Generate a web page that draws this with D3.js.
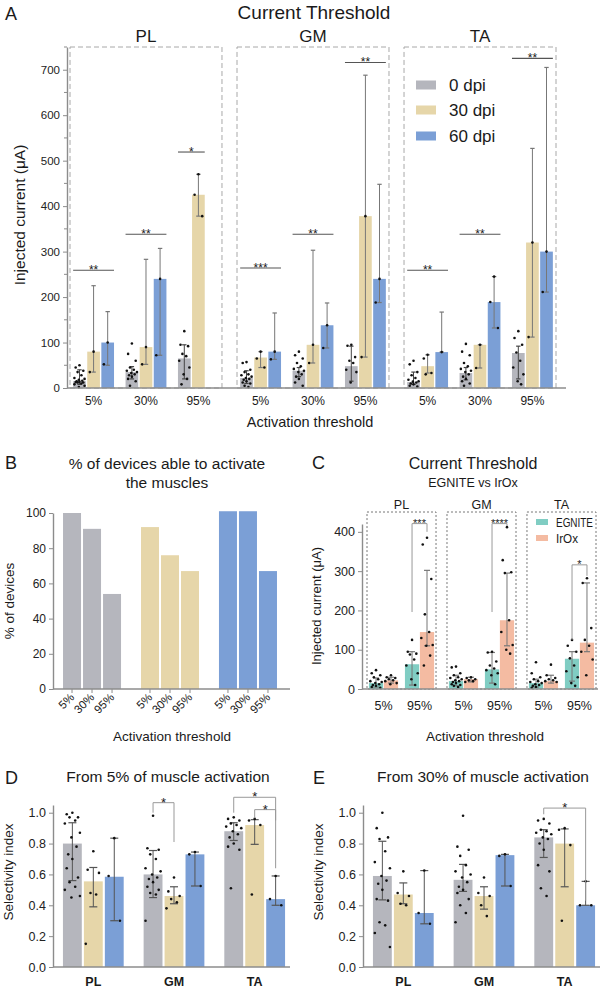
<!DOCTYPE html>
<html>
<head>
<meta charset="utf-8">
<script src="https://cdn.jsdelivr.net/npm/d3@7"></script>
<style>
  body { margin: 0; background: #fff; }
  svg { font-family: Arial, "Liberation Sans", Helvetica, sans-serif; }
</style>
</head>
<body>
<svg width="600" height="990"></svg>
<script>
var muscles = ['PL', 'GM', 'TA'];
var thresholds = ['5%', '30%', '95%'];
var dpiLabels = ['0 dpi', '30 dpi', '60 dpi'];
var dpiColors = ['#b5b6bd', '#e6d6a9', '#7b9fd6'];
var materials = ['EGNITE', 'IrOx'];
var matColors = ['#80cdc3', '#f4bba2'];
var cThresholds = ['5%', '95%'];

// panel A : [muscle][threshold][dpi], µA
var aMean = [
  [[15, 80, 100], [35, 90, 240], [65, 425, null]],
  [[22, 67, 80], [38, 95, 138], [48, 378, 240]],
  [[13, 48, 79], [33, 95, 189], [77, 320, 300]]
];
var aLo = [
  [[8, 35, 50], [20, 52, 72], [20, 378, null]],
  [[10, 45, 63], [25, 55, 88], [15, 68, 188]],
  [[8, 33, 79], [18, 44, 132], [20, 112, 211]]
];
var aHi = [
  [[40, 225, 168], [47, 283, 307], [95, 470, null]],
  [[38, 80, 165], [45, 303, 187], [92, 688, 448]],
  [[35, 73, 167], [45, 95, 245], [92, 527, 705]]
];
var aDots = [
  [[[50, 45, 38, 35, 28, 22, 20, 18, 16, 15, 14, 13, 12, 12, 10, 8, 5, 2], [80, 35], [100, 52]],
   [[98, 75, 60, 45, 40, 38, 35, 33, 30, 28, 25, 20, 15, 5], [90, 52], [240, 72]],
   [[125, 95, 92, 75, 70, 60, 45, 30, 20, 8], [470, 425, 378], []]],
  [[[57, 55, 40, 35, 30, 28, 25, 22, 20, 18, 15, 12, 10, 5, 2], [80, 65, 45], [80, 63]],
   [[80, 72, 65, 55, 48, 42, 38, 35, 30, 25, 20, 12, 5], [95, 55], [138, 88]],
   [[95, 93, 68, 60, 55, 40, 35, 12], [378, 68], [240, 188]]],
  [[[60, 52, 35, 28, 22, 18, 15, 14, 12, 10, 8, 5, 3], [73, 65, 33, 30], [79]],
   [[97, 80, 72, 55, 48, 42, 38, 35, 30, 25, 20, 15, 10, 5], [95, 44], [245, 189, 132]],
   [[125, 110, 95, 78, 60, 45, 30, 15, 8], [320, 112], [300, 211]]]
];
// [muscle, threshold, first dpi, last dpi, height, stars]
var aSig = [
  [0, 0, 0, 2, 259, '**'], [0, 1, 0, 2, 338, '**'], [0, 2, 0, 1, 519, '*'],
  [1, 0, 0, 2, 264, '***'], [1, 1, 0, 2, 338, '**'], [1, 2, 0, 2, 716, '**'],
  [2, 0, 0, 2, 259, '**'], [2, 1, 0, 2, 338, '**'], [2, 2, 0, 2, 725, '**']
];

// panel B : [dpi][threshold], %
var bPct = [[100, 91, 54], [92, 76, 67], [101, 101, 67]];

// panel C : [muscle][threshold][material], µA
var cMean = [
  [[15, 22], [63, 145]],
  [[20, 25], [50, 175]],
  [[15, 20], [77, 118]]
];
var cLo = [
  [[5, 15], [10, 110]],
  [[8, 18], [15, 110]],
  [[5, 15], [20, 95]]
];
var cHi = [
  [[28, 30], [95, 302]],
  [[35, 30], [93, 295]],
  [[25, 35], [95, 270]]
];
var cDots = [
  [[[48, 40, 35, 30, 25, 20, 18, 15, 12, 10, 8, 5, 3], [35, 30, 28, 25, 22, 20, 15, 12]],
   [[125, 95, 90, 88, 75, 60, 40, 25, 10], [385, 368, 280, 190, 145, 130, 112, 110, 85, 60]]],
  [[[57, 55, 40, 35, 30, 28, 25, 22, 20, 18, 15, 12, 10, 8, 5], [30, 28, 25, 22, 20, 18]],
   [[95, 93, 70, 60, 52, 48, 40, 35, 12], [412, 328, 297, 295, 175, 145, 112, 100, 90]]],
  [[[68, 40, 30, 25, 20, 18, 15, 12, 10, 8, 5, 3], [62, 35, 28, 25, 22, 20, 18]],
   [[125, 110, 95, 78, 60, 45, 30, 15, 8], [282, 270, 155, 125, 110, 95, 75, 35]]]
];
// [muscle, top, left leg end, right leg end, stars]
var cSig = [[0, 421, 196, 400, '***'], [1, 421, 196, 415, '****'], [2, 316, 125, 288, '*']];

// panel D : from 5% activation, [muscle][dpi]
var dMean = [[0.80, 0.555, 0.585], [0.60, 0.46, 0.73], [0.88, 0.92, 0.44]];
var dLo = [[0.56, 0.39, 0.30], [0.45, 0.41, 0.525], [0.82, 0.795, 0.40]];
var dHi = [[0.935, 0.645, 0.835], [0.755, 0.52, 0.745], [0.935, 0.955, 0.59]];
var dDots = [
  [[1.0, 0.99, 0.97, 0.97, 0.95, 0.93, 0.87, 0.84, 0.78, 0.73, 0.70, 0.64, 0.58, 0.55, 0.52, 0.50, 0.46, 0.45],
   [0.75, 0.63, 0.61, 0.48, 0.47, 0.15], [0.835, 0.59, 0.30]],
  [[0.98, 0.77, 0.76, 0.73, 0.70, 0.64, 0.62, 0.60, 0.58, 0.57, 0.55, 0.52, 0.50, 0.48, 0.47, 0.30],
   [0.58, 0.49, 0.46, 0.44, 0.42, 0.38], [0.745, 0.73, 0.525]],
  [[0.97, 0.96, 0.95, 0.93, 0.92, 0.91, 0.90, 0.88, 0.86, 0.84, 0.80, 0.78, 0.76, 0.51],
   [0.96, 0.95, 0.92, 0.47], [0.59, 0.44, 0.40]]
];
// [muscle, from dpi, to dpi, top, left end, right end, stars]
var dSig = [[1, 0, 1, 1.065, 1.0, 0.81, '*'], [2, 0, 2, 1.10, 1.0, 0.95, '*'], [2, 1, 2, 1.02, 0.965, 0.64, '*']];

// panel E : from 30% activation
var eMean = [[0.59, 0.47, 0.35], [0.565, 0.46, 0.725], [0.84, 0.80, 0.40]];
var eLo = [[0.435, 0.41, 0.28], [0.49, 0.375, 0.525], [0.71, 0.52, 0.40]];
var eHi = [[0.815, 0.545, 0.625], [0.665, 0.52, 0.73], [0.89, 0.895, 0.555]];
var eDots = [
  [[1.0, 0.90, 0.84, 0.83, 0.75, 0.68, 0.64, 0.59, 0.56, 0.54, 0.50, 0.44, 0.43, 0.29, 0.27, 0.22, 0.13],
   [0.62, 0.48, 0.46, 0.41, 0.40], [0.625, 0.35, 0.28]],
  [[0.98, 0.78, 0.76, 0.72, 0.66, 0.62, 0.60, 0.58, 0.55, 0.52, 0.50, 0.48, 0.44, 0.40, 0.35, 0.29],
   [0.58, 0.48, 0.46, 0.40, 0.33], [0.73, 0.72, 0.525]],
  [[0.96, 0.95, 0.93, 0.89, 0.88, 0.87, 0.86, 0.84, 0.83, 0.80, 0.76, 0.66, 0.62, 0.51, 0.46],
   [0.90, 0.89, 0.79, 0.30], [0.555, 0.40, 0.40]]
];
var eSig = [[2, 0, 2, 1.03, 0.99, 0.43, '*']];

var svg = d3.select('svg');
var ink = '#1a1a1a';

function label(x, y, str, size, anchor, weight) {
  return svg.append('text').attr('x', x).attr('y', y)
    .attr('font-size', size).attr('text-anchor', anchor || 'middle')
    .attr('font-weight', weight || 'normal').attr('fill', ink).text(str);
}
function vlabel(x, y, str, size) {
  return svg.append('text').attr('transform', 'translate(' + x + ',' + y + ') rotate(-90)')
    .attr('font-size', size).attr('text-anchor', 'middle').attr('fill', ink).text(str);
}
function styleAxis(g, size) {
  g.attr('font-family', null).attr('font-size', size);
  g.select('.domain').attr('stroke', '#8c8c8c').attr('stroke-width', 1.4);
  g.selectAll('.tick line').attr('stroke', '#8c8c8c');
  g.selectAll('.tick text').attr('fill', '#222');
}
var jit = [0, -0.3, 0.3, -0.15, 0.15, -0.4, 0.4, -0.05, 0.22, -0.22];
function dots(cx, w, vals, y) {
  vals.forEach(function(v, i) {
    svg.append('circle').attr('cx', cx + jit[i % jit.length] * w).attr('cy', y(v))
      .attr('r', 1.3).attr('fill', '#111');
  });
}
function errorBar(cx, lo, hi, y, cap, color) {
  svg.append('line').attr('x1', cx).attr('x2', cx).attr('y1', y(lo)).attr('y2', y(hi))
    .attr('stroke', color).attr('stroke-width', 1);
  [lo, hi].forEach(function(v) {
    svg.append('line').attr('x1', cx - cap).attr('x2', cx + cap).attr('y1', y(v)).attr('y2', y(v))
      .attr('stroke', color).attr('stroke-width', 1.2);
  });
}
// stars sit just above their line: baseline a little below it, the glyph rides high
function stars(x, lineY, str, size) {
  label(x, lineY + size * 0.3, str, size);
}
function bracket(x0, x1, top, yl, yr, y, str, size) {
  svg.append('path')
    .attr('d', 'M' + x0 + ',' + y(yl) + 'V' + y(top) + 'H' + x1 + 'V' + y(yr))
    .attr('fill', 'none').attr('stroke', '#999').attr('stroke-width', 1);
  stars((x0 + x1) / 2, y(top), str, size);
}

// ---------------- A ----------------
var aBase = 388, aTop = 47;
var aY = d3.scaleLinear().domain([0, 750]).range([aBase, aTop]);
var aMx = d3.scaleBand().domain(muscles).range([70, 556]).paddingInner(0.09);
var aTx = d3.scaleBand().domain(thresholds).range([0, aMx.bandwidth()]).paddingInner(0.22).paddingOuter(0.06);
var aDx = d3.scaleBand().domain(d3.range(3)).range([0, aTx.bandwidth()]).paddingInner(0.1);

label(5, 20, 'A', 18, 'start');
label(314, 19, 'Current Threshold', 19);

muscles.forEach(function(m, mi) {
  var x0 = aMx(m);
  svg.append('rect').attr('x', x0).attr('y', aTop).attr('width', aMx.bandwidth()).attr('height', aBase - aTop)
    .attr('fill', 'none').attr('stroke', '#a8a8a8').attr('stroke-dasharray', '5,3');
  label(x0 + aMx.bandwidth() / 2, 42, m, 17);
  thresholds.forEach(function(t, ti) {
    var tx = x0 + aTx(t);
    label(tx + aTx.bandwidth() / 2, 405, t, 12);
    dpiLabels.forEach(function(d, di) {
      var v = aMean[mi][ti][di];
      if (v == null) return;
      var bx = tx + aDx(di), bw = aDx.bandwidth(), cx = bx + bw / 2;
      svg.append('rect').attr('x', bx).attr('y', aY(v)).attr('width', bw).attr('height', aBase - aY(v))
        .attr('fill', dpiColors[di]);
      errorBar(cx, aLo[mi][ti][di], aHi[mi][ti][di], aY, 2.2, di === 0 ? '#444' : '#777');
      dots(cx, bw, aDots[mi][ti][di], aY);
    });
  });
});
aSig.forEach(function(s) {
  var tx = aMx(muscles[s[0]]) + aTx(thresholds[s[1]]);
  var x0 = tx + aDx(s[2]), x1 = tx + aDx(s[3]) + aDx.bandwidth();
  var yy = aY(s[4]);
  svg.append('line').attr('x1', x0).attr('x2', x1).attr('y1', yy).attr('y2', yy)
    .attr('stroke', '#555').attr('stroke-width', 1.1);
  stars((x0 + x1) / 2, yy, s[5], 12);
});

var aAxis = svg.append('g').attr('transform', 'translate(67,0)')
  .call(d3.axisLeft(aY).tickValues(d3.range(0, 701, 100)).tickSize(4).tickSizeOuter(0));
styleAxis(aAxis, 11.5);
svg.append('g').attr('transform', 'translate(67,0)').selectAll('line')
  .data(d3.range(50, 751, 100)).enter().append('line')
  .attr('x1', -3).attr('x2', 0).attr('y1', aY).attr('y2', aY).attr('stroke', '#8c8c8c');
svg.append('line').attr('x1', 67).attr('x2', 566).attr('y1', aBase).attr('y2', aBase)
  .attr('stroke', '#8c8c8c').attr('stroke-width', 1.4);
vlabel(25, 215, 'Injected current (μA)', 15.5);
label(310, 427, 'Activation threshold', 14.5);

var aLeg = [85, 110, 136];
dpiLabels.forEach(function(d, i) {
  svg.append('rect').attr('x', 416).attr('y', aLeg[i] - 4.5).attr('width', 20).attr('height', 9)
    .attr('fill', dpiColors[i]);
  label(449, aLeg[i] + 6, d, 17, 'start');
});

// ---------------- B ----------------
var bBase = 689;
var bY = d3.scaleLinear().domain([0, 100]).range([bBase, 513]);
var bGx = d3.scaleBand().domain(d3.range(3)).range([50, 290]).paddingInner(0.256).paddingOuter(0.167);
var bTx = d3.scaleBand().domain(thresholds).range([0, bGx.bandwidth()]).paddingInner(0.1);

label(5, 469, 'B', 18, 'start');
label(167, 469, '% of devices able to activate', 15.5);
label(167, 488, 'the muscles', 15.5);

bPct.forEach(function(row, gi) {
  row.forEach(function(v, ti) {
    var bx = bGx(gi) + bTx(thresholds[ti]), bw = bTx.bandwidth(), cx = bx + bw / 2;
    svg.append('rect').attr('x', bx).attr('y', bY(v)).attr('width', bw).attr('height', bBase - bY(v))
      .attr('fill', dpiColors[gi]);
    svg.append('line').attr('x1', cx).attr('x2', cx).attr('y1', bBase).attr('y2', bBase + 4)
      .attr('stroke', '#8c8c8c');
    svg.append('text').attr('transform', 'translate(' + (cx + 3) + ',' + (bBase + 9) + ') rotate(-45)')
      .attr('font-size', 11.5).attr('text-anchor', 'end').attr('fill', '#222').text(thresholds[ti]);
  });
});
var bAxis = svg.append('g').attr('transform', 'translate(53,0)')
  .call(d3.axisLeft(bY).tickValues(d3.range(0, 101, 20)).tickSize(4).tickSizeOuter(0));
styleAxis(bAxis, 12);
svg.append('line').attr('x1', 53).attr('x2', 290).attr('y1', bBase).attr('y2', bBase)
  .attr('stroke', '#8c8c8c').attr('stroke-width', 1.4);
vlabel(14, 601, '% of devices', 13.5);
label(172, 741, 'Activation threshold', 13.5);

// ---------------- C ----------------
var cBase = 689;
var cY = d3.scaleLinear().domain([0, 420]).range([cBase, 524]);
var cMx = d3.scaleBand().domain(muscles).range([367, 596]).paddingInner(0.137);
var cTx = d3.scaleBand().domain(cThresholds).range([0, cMx.bandwidth()]).paddingInner(0.19).paddingOuter(0.053);
var cDx = d3.scaleBand().domain(d3.range(2)).range([0, cTx.bandwidth()]).paddingInner(0.05);

label(312, 469, 'C', 18, 'start');
label(473, 469, 'Current Threshold', 16);
label(473, 487, 'EGNITE vs IrOx', 12.5);

muscles.forEach(function(m, mi) {
  var x0 = cMx(m);
  svg.append('rect').attr('x', x0).attr('y', 512).attr('width', cMx.bandwidth()).attr('height', cBase - 512)
    .attr('fill', 'none').attr('stroke', '#777').attr('stroke-dasharray', '2,2');
  label(x0 + cMx.bandwidth() / 2, 509, m, 12.5);
  cThresholds.forEach(function(t, ti) {
    var tx = x0 + cTx(t);
    label(tx + cTx.bandwidth() / 2, 710, t, 12.5);
    materials.forEach(function(mat, ki) {
      var v = cMean[mi][ti][ki];
      var bx = tx + cDx(ki), bw = cDx.bandwidth(), cx = bx + bw / 2;
      svg.append('rect').attr('x', bx).attr('y', cY(v)).attr('width', bw).attr('height', cBase - cY(v))
        .attr('fill', matColors[ki]);
      errorBar(cx, cLo[mi][ti][ki], cHi[mi][ti][ki], cY, 3, '#777');
      dots(cx, bw, cDots[mi][ti][ki], cY);
    });
  });
});
cSig.forEach(function(s) {
  var tx = cMx(muscles[s[0]]) + cTx('95%');
  var x0 = tx + cDx(0) + cDx.bandwidth() / 2, x1 = tx + cDx(1) + cDx.bandwidth() / 2;
  bracket(x0, x1, s[1], s[2], s[3], cY, s[4], 11);
});
var cAxis = svg.append('g').attr('transform', 'translate(362,0)')
  .call(d3.axisLeft(cY).tickValues(d3.range(0, 401, 100)).tickSize(4).tickSizeOuter(0));
styleAxis(cAxis, 12.5);
svg.append('line').attr('x1', 362).attr('x2', 598).attr('y1', cBase).attr('y2', cBase)
  .attr('stroke', '#8c8c8c').attr('stroke-width', 1.4);
vlabel(321, 606, 'Injected current (μA)', 13);
label(485, 741, 'Activation threshold', 13.5);

var legLen = [37, 22];
materials.forEach(function(mat, i) {
  var yy = 522 + i * 16;
  svg.append('rect').attr('x', 536).attr('y', yy - 3).attr('width', 12).attr('height', 6).attr('fill', matColors[i]);
  label(556, yy + 4.5, mat, 12, 'start')
    .attr('textLength', legLen[i]).attr('lengthAdjust', 'spacingAndGlyphs');
});

// ---------------- D & E ----------------
function selectivity(left, axisX, title, titleX, letterX, mean, lo, hi, pts, sig) {
  var base = 967;
  var y = d3.scaleLinear().domain([0, 1.05]).range([base, 805]);
  var mx = d3.scaleBand().domain(muscles).range([left, left + 236]).paddingInner(0.247).paddingOuter(0.086);
  var dx = d3.scaleBand().domain(d3.range(3)).range([0, mx.bandwidth()]).paddingInner(0.1);

  label(letterX, 784, letterX < 100 ? 'D' : 'E', 18, 'start');
  label(titleX, 782, title, 15.5);

  muscles.forEach(function(m, mi) {
    label(mx(m) + mx.bandwidth() / 2, 986, m, 12.5, 'middle', 'bold');
    dpiLabels.forEach(function(d, di) {
      var v = mean[mi][di];
      var bx = mx(m) + dx(di), bw = dx.bandwidth(), cx = bx + bw / 2;
      svg.append('rect').attr('x', bx).attr('y', y(v)).attr('width', bw).attr('height', base - y(v))
        .attr('fill', dpiColors[di]);
      errorBar(cx, lo[mi][di], hi[mi][di], y, 4, '#555');
      dots(cx, bw, pts[mi][di], y);
    });
  });
  sig.forEach(function(s) {
    var x0 = mx(muscles[s[0]]) + dx(s[1]) + dx.bandwidth() / 2;
    var x1 = mx(muscles[s[0]]) + dx(s[2]) + dx.bandwidth() / 2;
    bracket(x0, x1, s[3], s[4], s[5], y, s[6], 13);
  });
  var ax = svg.append('g').attr('transform', 'translate(' + axisX + ',0)')
    .call(d3.axisLeft(y).tickValues(d3.range(0, 1.01, 0.2)).tickFormat(d3.format('.1f')).tickSize(4).tickSizeOuter(0));
  styleAxis(ax, 12.5);
  svg.append('line').attr('x1', axisX).attr('x2', axisX + 237).attr('y1', base).attr('y2', base)
    .attr('stroke', '#8c8c8c').attr('stroke-width', 1.4);
  vlabel(axisX - 40, 872, 'Selectivity index', 13.5);
}
selectivity(56, 53, 'From 5% of muscle activation', 168, 5, dMean, dLo, dHi, dDots, dSig);
selectivity(366, 363, 'From 30% of muscle activation', 483, 313, eMean, eLo, eHi, eDots, eSig);
</script>
</body>
</html>
